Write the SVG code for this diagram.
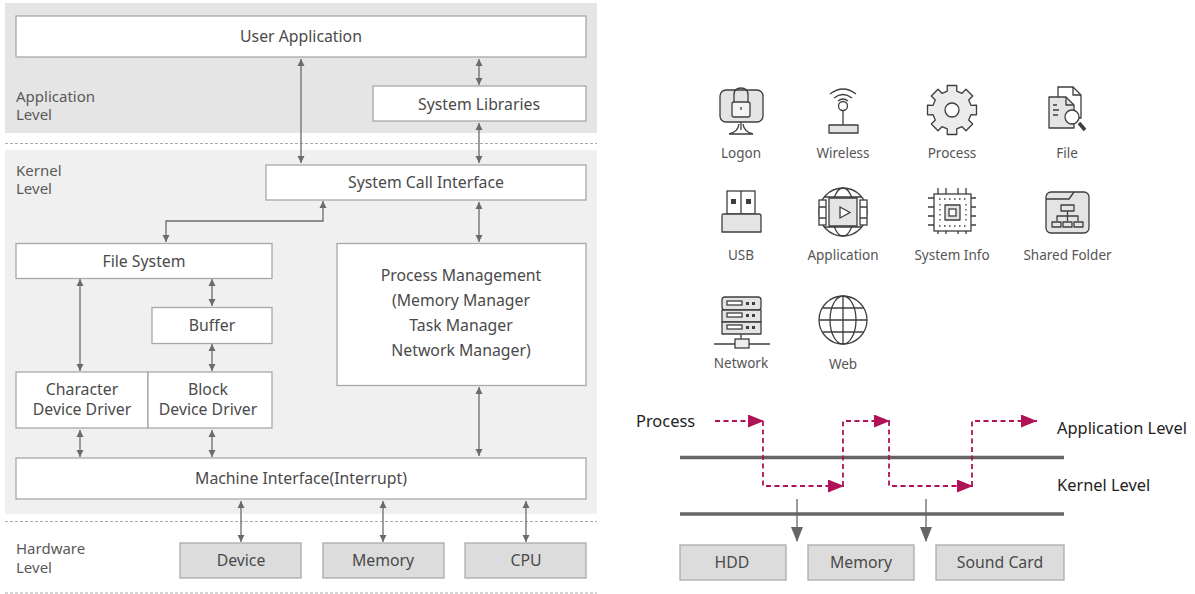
<svg xmlns="http://www.w3.org/2000/svg" width="1195" height="594" viewBox="0 0 1195 594">
<style>
text{font-family:"Noto Sans","Open Sans","Liberation Sans",sans-serif;fill:#4a4a4a;font-size:15.8px}
.c{text-anchor:middle}
.l{font-size:15px;fill:#595959}
.i{font-size:13.5px;fill:#555;text-anchor:middle}
.t{font-size:16.4px;fill:#222}
.b{fill:#fff;stroke:#a8a8a8;stroke-width:1.3}
.h{fill:#dcdcdc;stroke:#ababab;stroke-width:1.3}
.d{fill:none;stroke:#aaa;stroke-width:1;stroke-dasharray:3 2}
.a{fill:none;stroke:#6b6b6d;stroke-width:1.3;marker-start:url(#as);marker-end:url(#ae)}
.p{fill:none;stroke:#b01257;stroke-width:1.8;stroke-dasharray:5 3.500;marker-end:url(#pm)}
.ic{fill:#e4e4e4;stroke:#3e3e3e;stroke-width:1.300;stroke-linejoin:round}
.n{fill:none;stroke:#3e3e3e;stroke-width:1.300;stroke-linejoin:round}
.w{fill:#fff;stroke:#3e3e3e;stroke-width:1.300}
.k{fill:#3e3e3e}
</style>
<defs>
<marker id="ae" markerWidth="8" markerHeight="8" refX="7" refY="3.500" orient="auto" markerUnits="userSpaceOnUse"><path d="M0 0L7 3.500L0 7Z" fill="#6b6b6d"/></marker>
<marker id="as" markerWidth="8" markerHeight="8" refX="0" refY="3.500" orient="auto" markerUnits="userSpaceOnUse"><path d="M7 0L0 3.500L7 7Z" fill="#6b6b6d"/></marker>
<marker id="pm" markerWidth="18" markerHeight="14" refX="16" refY="6.500" orient="auto" markerUnits="userSpaceOnUse"><path d="M0 0L16 6.500L0 13Z" fill="#b01257"/></marker>
</defs>
<g id="bands">
<rect x="5" y="3" width="592" height="130" fill="#e5e5e5"/>
<rect x="5" y="150" width="592" height="364" fill="#f0f0f0"/>
<path class="d" d="M5 143.500H597M5 521.500H597M5 593H597"/>
</g>
<text class="l" x="16" y="102">Application</text><text class="l" x="16" y="120">Level</text>
<text class="l" x="16" y="176">Kernel</text><text class="l" x="16" y="194">Level</text>
<text class="l" x="16" y="554">Hardware</text><text class="l" x="16" y="573">Level</text>
<g id="connectors">
<path class="a" d="M301 59V163"/>
<path class="a" d="M479 59V85"/>
<path class="a" d="M479 123V163"/>
<path class="a" d="M479 202V242"/>
<path class="a" d="M323 201V221H166V242"/>
<path class="a" d="M80 279V371"/>
<path class="a" d="M212 279V306"/>
<path class="a" d="M212 344V371"/>
<path class="a" d="M80 430V457"/>
<path class="a" d="M212 430V457"/>
<path class="a" d="M479 387V456"/>
<path class="a" d="M241 501V542"/>
<path class="a" d="M383 501V542"/>
<path class="a" d="M526 501V542"/>
</g>
<g id="user-application"><rect class="b" x="16" y="16" width="570" height="41"/><text class="c" x="301" y="42">User Application</text></g>
<g id="system-libraries"><rect class="b" x="373" y="86" width="213" height="35"/><text class="c" x="479" y="110">System Libraries</text></g>
<g id="system-call-interface"><rect class="b" x="266" y="165" width="320" height="35"/><text class="c" x="426" y="188">System Call Interface</text></g>
<g id="file-system"><rect class="b" x="16" y="243.500" width="256" height="35"/><text class="c" x="144" y="267">File System</text></g>
<g id="process-management"><rect class="b" x="337" y="243.500" width="249" height="142"/>
<text class="c" x="461" y="281">Process Management</text><text class="c" x="461" y="306">(Memory Manager</text><text class="c" x="461" y="331">Task Manager</text><text class="c" x="461" y="356">Network Manager)</text></g>
<g id="buffer"><rect class="b" x="152" y="307.500" width="120" height="36"/><text class="c" x="212" y="331">Buffer</text></g>
<g id="character-device-driver"><rect class="b" x="16" y="372" width="132" height="56"/><text class="c" x="82" y="395">Character</text><text class="c" x="82" y="415">Device Driver</text></g>
<g id="block-device-driver"><rect class="b" x="148" y="372" width="124" height="56"/><text class="c" x="208" y="395">Block</text><text class="c" x="208" y="415">Device Driver</text></g>
<g id="machine-interface"><rect class="b" x="16" y="458" width="570" height="41"/><text class="c" x="301" y="484">Machine Interface(Interrupt)</text></g>
<g id="device"><rect class="h" x="180" y="543" width="121" height="35"/><text class="c" x="241" y="566">Device</text></g>
<g id="memory"><rect class="h" x="323" y="543" width="121" height="35"/><text class="c" x="383" y="566">Memory</text></g>
<g id="cpu"><rect class="h" x="465" y="543" width="121" height="35"/><text class="c" x="526" y="566">CPU</text></g>

<g id="icon-logon">
<rect class="ic" x="720" y="90" width="43" height="32" rx="6"/>
<path class="n" d="M741 122V130M729 134Q738 132 739 124M753 134Q744 132 743 124M729 134H753"/>
<path class="n" d="M734 104V95Q734 88 741 88Q748 88 748 95V104"/>
<rect x="732" y="102" width="18" height="15" rx="2" fill="#f4f4f4" stroke="#3e3e3e" stroke-width="1.300"/>
<path class="n" d="M741 107V110"/>
<text class="i" x="741" y="158">Logon</text></g>
<g id="icon-wireless">
<path class="n" d="M830 94Q843 84 856 94M834 98Q843 91 852 98M838 101Q843 97 848 101"/>
<circle class="n" cx="843" cy="106" r="4.500"/><path class="n" d="M843 110.500V125"/>
<rect class="ic" x="829" y="125" width="29" height="8"/>
<text class="i" x="843" y="158">Wireless</text></g>
<g id="icon-process">
<path fill="#ececec" stroke="#3e3e3e" stroke-width="1.300" stroke-linejoin="round" d="M947.300 91.100L947.200 85.500H956.800L956.700 91.100L962 93.300L966 89.300L972.700 96L968.700 100L970.900 105.300L976.500 105.200V114.800L970.900 114.700L968.700 120L972.700 124L966 130.700L962 126.700L956.700 128.900L956.800 134.500H947.200L947.300 128.900L942 126.700L938 130.700L931.300 124L935.300 120L933.100 114.700L927.500 114.800V105.200L933.100 105.300L935.300 100L931.300 96L938 89.300L942 93.300Z"/>
<circle class="w" cx="952" cy="110" r="7"/>
<text class="i" x="952" y="158">Process</text></g>
<g id="icon-file">
<path class="w" d="M1058 87H1073L1081 95V118H1058Z"/>
<path class="n" d="M1073 87V95H1081"/>
<path class="ic" d="M1049 97H1066L1074 105V128H1049Z"/>
<path class="n" d="M1066 97V105H1074M1053 105H1057M1053 110H1059M1053 115H1058"/>
<path d="M1079 123L1085 130" stroke="#3e3e3e" stroke-width="3.500" fill="none"/>
<circle class="w" cx="1072" cy="117" r="7"/>
<text class="i" x="1067" y="158">File</text></g>
<g id="icon-usb">
<rect class="w" x="727" y="191" width="28" height="23"/><path class="n" d="M741 191V214"/>
<rect class="k" x="731" y="199" width="5" height="5"/><rect class="k" x="746" y="199" width="5" height="5"/>
<path class="ic" d="M723 214H759Q761 214 761 216V232H722V216Q722 214 723 214Z"/>
<text class="i" x="741" y="260">USB</text></g>
<g id="icon-application">
<circle class="n" cx="843" cy="212" r="24"/><ellipse class="n" cx="843" cy="212" rx="11" ry="24"/>
<path class="n" d="M824 197H862M824 227H862"/>
<rect class="w" x="819" y="200" width="7" height="25"/>
<rect class="w" x="860" y="200" width="7" height="25"/>
<path class="n" d="M819 207H826M819 218H826M860 207H867M860 218H867"/>
<rect class="ic" x="829" y="198" width="28" height="28"/>
<path class="w" d="M840 207L850 212.500L840 218Z"/>
<text class="i" x="843" y="260">Application</text></g>
<g id="icon-system-info">
<path class="n" d="M938 188V234M946 188V234M958 188V234M966 188V234M928 198H976M928 207H976M928 216H976M928 225H976"/>
<rect class="w" x="934" y="194" width="37" height="37"/>
<rect class="ic" x="945" y="205" width="15" height="15"/><rect class="w" x="949" y="209" width="7" height="7"/>
<path class="n" stroke-dasharray="1.500 3.500" stroke-width="1.500" d="M939 199H966M939 226H966M940 204V222M966 204V222"/>
<text class="i" x="952" y="260">System Info</text></g>
<g id="icon-shared-folder">
<rect class="ic" x="1046" y="192" width="43" height="41" rx="5"/>
<path class="n" d="M1046 199H1069L1074 192"/>
<rect class="n" x="1061" y="205" width="13" height="6"/>
<path class="n" d="M1067.500 211V216M1057 221V216H1078V221M1067.500 216V221"/>
<rect class="n" x="1052" y="222" width="9" height="5"/><rect class="n" x="1063" y="222" width="9" height="5"/><rect class="n" x="1074" y="222" width="9" height="5"/>
<text class="i" x="1067.500" y="260">Shared Folder</text></g>
<g id="icon-network">
<rect class="ic" x="722" y="297" width="39" height="13" rx="3"/><rect class="ic" x="722" y="310" width="39" height="12"/><rect class="ic" x="722" y="322" width="39" height="12"/>
<rect class="w" x="727" y="301" width="15" height="4"/><rect class="w" x="727" y="313" width="15" height="4"/><rect class="w" x="727" y="325" width="15" height="4"/>
<path class="k" d="M746 302h3v3h-3zM752 302h3v3h-3zM746 314h3v3h-3zM752 314h3v3h-3zM746 326h3v3h-3zM752 326h3v3h-3z"/>
<path class="n" stroke="#777" d="M741 334V339M714 344H735M749 344H770"/>
<rect x="735" y="339" width="14" height="9" fill="#eee" stroke="#3e3e3e" stroke-width="1.300"/>
<text class="i" x="741" y="368">Network</text></g>
<g id="icon-web">
<circle class="n" cx="843" cy="320" r="24"/><ellipse class="n" cx="843" cy="320" rx="13" ry="24"/>
<path class="n" d="M843 296V344M819 320H867M823 308H863M823 332H863"/>
<text class="i" x="843" y="369">Web</text></g>

<g id="flow-rails"><path d="M680 457.500H1064M680 514H1064" stroke="#666" stroke-width="3.500" fill="none"/></g>
<g id="flow-connectors">
<path class="p" d="M715 421H764"/>
<path class="p" d="M763 421V486H844"/>
<path class="p" d="M843 486V421H890"/>
<path class="p" d="M889 421V486H973"/>
<path class="p" d="M972 486V421H1037"/>
<path d="M797 499V541M926 499V541" stroke="#666" stroke-width="1.300" fill="none"/>
<path d="M791 527H803L797 542ZM920 527H932L926 542Z" fill="#666"/>
</g>
<text class="t" x="636" y="427">Process</text>
<text class="t" x="1057" y="434">Application Level</text>
<text class="t" x="1057" y="491">Kernel Level</text>
<g id="hdd"><rect class="h" x="680" y="545" width="106" height="35"/><text class="c" x="732" y="568">HDD</text></g>
<g id="flow-memory"><rect class="h" x="808" y="545" width="106" height="35"/><text class="c" x="861" y="568">Memory</text></g>
<g id="sound-card"><rect class="h" x="936" y="545" width="128" height="35"/><text class="c" x="1000" y="568">Sound Card</text></g>
</svg>
